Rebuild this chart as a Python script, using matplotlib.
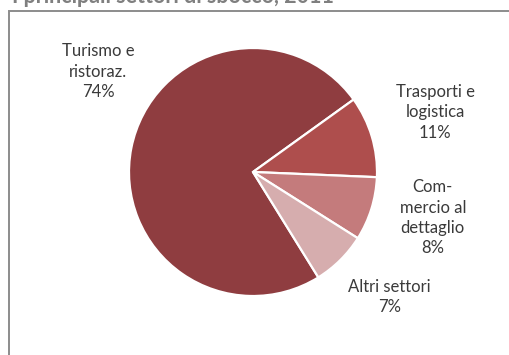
import matplotlib.pyplot as plt
from matplotlib.patches import Rectangle

# dati
settori = ['Turismo e\nristoraz.', 'Trasporti e\nlogistica', 'Com-\nmercio al\ndettaglio', 'Altri settori']
quote = [73.9, 10.6, 8.3, 7.2]
colori = ['#8f3d40', '#ae4e4d', '#c47b7c', '#d6adae']
# posizione delle etichette (coordinate del grafico, raggio = 1)
pos_etichette = [(-1.25, 0.81), (1.47, 0.48), (1.45, -0.37), (1.10, -1.01)]

plt.rcParams['font.family'] = ['Lato', 'DejaVu Sans']

W, H = 509, 355
fig = plt.figure(figsize=(W / 100, H / 100), dpi=100)

# cornice grigia (tagliata a destra e in basso)
fig.patches.append(Rectangle((9 / W, -0.2), 1.2, 1 - 11 / H + 0.2, transform=fig.transFigure,
                             fill=False, edgecolor='#8c8c8c', linewidth=1.4))
# titolo tagliato in alto
fig.text(12 / W, 1 - 3 / H, 'I principali settori di sbocco, 2011', fontsize=15.5,
         fontweight='bold', color='#7f7f7f', ha='left', va='baseline')

cx, cy, r = 253, 172, 124
ax = fig.add_axes([(cx - r) / W, (H - cy - r) / H, 2 * r / W, 2 * r / H])
ax.pie(quote, colors=colori, startangle=-58.2, counterclock=False,
       wedgeprops=dict(edgecolor='white', linewidth=1.6))
ax.set_xlim(-1, 1)
ax.set_ylim(-1, 1)

for nome, q, (x, y) in zip(settori, quote, pos_etichette):
    ax.text(x, y, nome + '\n' + str(round(q)) + '%', ha='center', va='center',
            fontsize=12, color='#3a3a3a', linespacing=1.33, clip_on=False)

fig.savefig('out.png', dpi=100)
